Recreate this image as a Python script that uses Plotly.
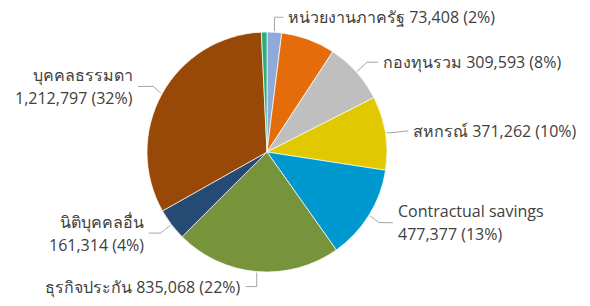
import math
import plotly.graph_objects as go

# ---- data (clockwise from 12 o'clock) ----
labels = ["หน่วยงานภาครัฐ", "ผู้ลงทุนอื่น", "กองทุนรวม", "สหกรณ์", "Contractual savings",
          "ธุรกิจประกัน", "นิติบุคคลอื่น", "บุคคลธรรมดา", "ผู้ลงทุนต่างประเทศ"]
values = [73408, 272000, 309593, 371262, 477377, 835068, 161314, 1212797, 28000]
show_label = [True, False, True, True, True, True, True, True, False]
colors = ["#8EAADB", "#E46C0A", "#BFBFBF", "#E2C800", "#0099CF",
          "#77933C", "#254A73", "#984807", "#2BAF78"]

W, H = 590, 306
CX, CY, R = 267, 152, 120
FONT = "Segoe UI, Open Sans, Noto Sans, DejaVu Sans, sans-serif"
TXT = "#404040"
LINE = "#A6A6A6"

total = sum(values)

fig = go.Figure(go.Pie(
    labels=labels, values=values, sort=False, direction="clockwise", rotation=0,
    marker=dict(colors=colors, line=dict(color="white", width=0.7)),
    textinfo="none", hoverinfo="label+value+percent",
    domain=dict(x=[(CX - R) / W, (CX + R) / W], y=[(H - CY - R) / H, (H - CY + R) / H]),
    showlegend=False,
))

def px(x):
    return x / W

def py(y):
    return 1 - y / H

# label layout (styling only): leader path offsets relative to slice anchor
layout_spec = {
    "หน่วยงานภาครัฐ": dict(pts=[(0, -14), (9, -14)], side="left", one=True),
    "กองทุนรวม": dict(pts=[(10, -9), (21, -9)], side="left", one=True),
    "สหกรณ์": dict(pts=[(3, 0), (22, -2)], side="left", one=True),
    "Contractual savings": dict(pts=[(9, 7), (23, 7)], side="left", one=False),
    "ธุรกิจประกัน": dict(pts=[(0, 14), (-11, 14)], side="right", one=True),
    "นิติบุคคลอื่น": dict(pts=[(-10, 8), (-22, 8)], side="right", one=False),
    "บุคคลธรรมดา": dict(pts=[(-8, -7), (-23, -7)], side="right", one=False),
}

annotations = []
shapes = []
cum = 0
for lab, v, show in zip(labels, values, show_label):
    start = cum
    cum += v
    if not show:
        continue
    mid = (start + v / 2) / total * 2 * math.pi
    ax = CX + (R + 1) * math.sin(mid)
    ay = CY - (R + 1) * math.cos(mid)
    spec = layout_spec[lab]
    pts = [(ax, ay)] + [(ax + dx, ay + dy) for dx, dy in spec["pts"]]
    path = "M " + " L ".join(f"{px(x):.5f},{py(y):.5f}" for x, y in pts)
    shapes.append(dict(type="path", xref="paper", yref="paper", path=path,
                       line=dict(color=LINE, width=1)))
    ex, ey = pts[-1]
    pct = round(v / total * 100)
    val_txt = f"{v:,} ({pct}%)"
    gap = 3
    if spec["side"] == "left":
        tx, xa = ex + gap, "left"
    else:
        tx, xa = ex - gap, "right"
    if spec["one"]:
        lines = [(f"{lab} {val_txt}", ey)]
    else:
        lines = [(lab, ey - 11.5), (val_txt, ey + 11.5)]
    for t, yy in lines:
        annotations.append(dict(text=t, x=px(tx), y=py(yy), xref="paper", yref="paper",
                                xanchor=xa, yanchor="middle", showarrow=False,
                                font=dict(family=FONT, size=16, color=TXT)))

fig.update_layout(
    width=W, height=H, margin=dict(l=0, r=0, t=0, b=0),
    paper_bgcolor="white", plot_bgcolor="white",
    annotations=annotations, shapes=shapes,
)

fig.write_html("out.html")
